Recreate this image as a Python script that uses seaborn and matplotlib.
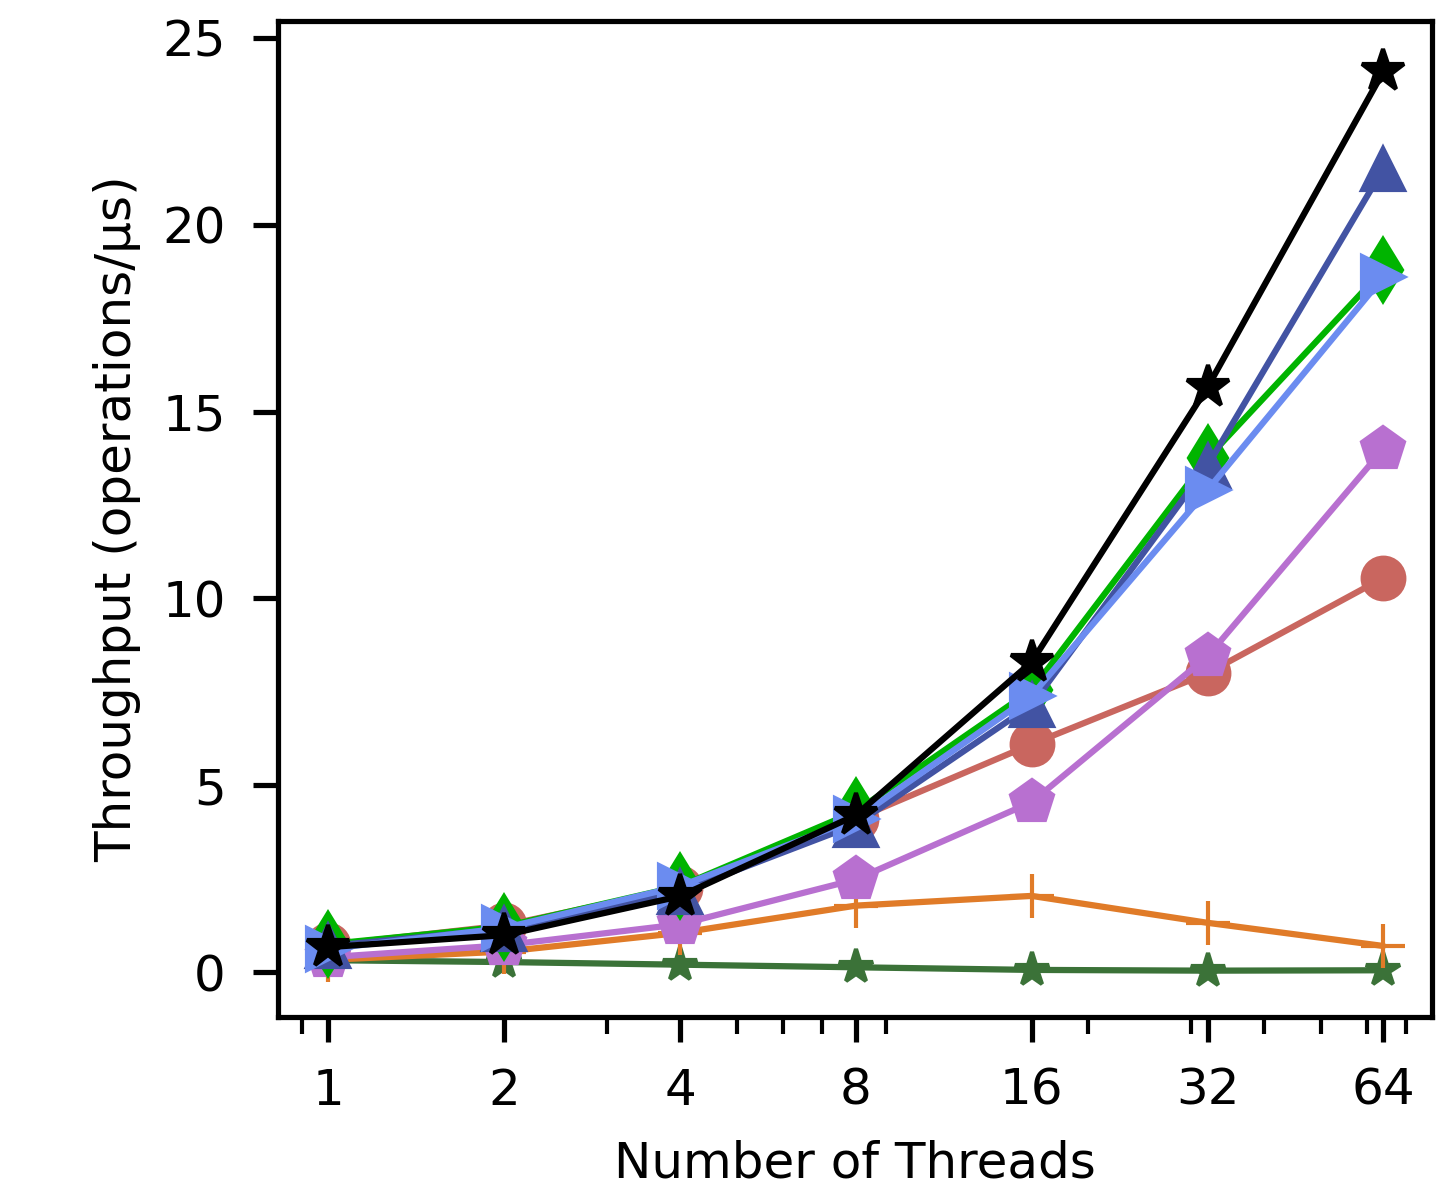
import numpy as np
import matplotlib
matplotlib.use("Agg")
import matplotlib.pyplot as plt
import seaborn as sns

# data
threads = [1, 2, 4, 8, 16, 32, 64]
thread_labels = ["1", "2", "4", "8", "16", "32", "64"]

dark_green_star = [0.32, 0.27, 0.2, 0.13, 0.06, 0.04, 0.05]
orange_plus = [0.33, 0.55, 1.05, 1.78, 2.04, 1.32, 0.7]
red_circle = [0.72, 1.25, 2.25, 4.1, 6.1, 8.0, 10.55]
purple_pentagon = [0.4, 0.72, 1.28, 2.48, 4.55, 8.45, 14.0]
green_diamond = [0.75, 1.22, 2.3, 4.3, 7.55, 13.75, 18.8]
blue_triangle = [0.7, 1.15, 2.15, 3.95, 7.15, 13.55, 21.5]
light_blue_triangle = [0.62, 1.18, 2.3, 4.1, 7.4, 12.9, 18.6]
black_star = [0.67, 0.99, 2.03, 4.2, 8.3, 15.65, 24.1]

series = [
    (dark_green_star, "#3b7238", "*", 8.5),
    (orange_plus, "#e07b28", "+", 10.5),
    (red_circle, "#c9665f", "o", 10),
    (purple_pentagon, "#b870d0", "p", 10.5),
    (green_diamond, "#00b400", "d", 10.5),
    (blue_triangle, "#4253a3", "^", 10),
    (light_blue_triangle, "#6b8cf0", ">", 10),
    (black_star, "#000000", "*", 10.5),
]

sns.set_theme(style="ticks", context="notebook")
plt.rcParams["font.family"] = ["DejaVu Sans"]
plt.rcParams["xtick.labelsize"] = 12
plt.rcParams["ytick.labelsize"] = 12
plt.rcParams["axes.labelsize"] = 12
plt.rcParams["axes.edgecolor"] = "black"
plt.rcParams["xtick.color"] = "black"
plt.rcParams["ytick.color"] = "black"
plt.rcParams["text.color"] = "black"
plt.rcParams["axes.labelcolor"] = "black"
plt.rcParams["xtick.major.pad"] = 6
plt.rcParams["ytick.major.pad"] = 6.5

fig = plt.figure(figsize=(1438 / 300, 1186 / 300), dpi=300)
ax = fig.add_axes([0.1933, 0.1425, 0.8025, 0.8398])

for vals, col, mk, ms in series:
    sns.lineplot(x=threads, y=vals, color=col, marker=mk, markersize=ms,
                 markeredgecolor=col, markeredgewidth=1.0, linewidth=1.5,
                 ax=ax)

ax.set_xscale("log")
ax.set_xticks(threads)
ax.set_xticklabels(thread_labels)
ax.set_xlim(0.82, 77.5)
ax.set_ylim(-1.2, 25.45)
ax.set_yticks([0, 5, 10, 15, 20, 25])
ax.set_xlabel("Number of Threads", labelpad=6)
ax.set_ylabel("Throughput (operations/µs)", labelpad=5)

fig.savefig("out.png", dpi=300)
